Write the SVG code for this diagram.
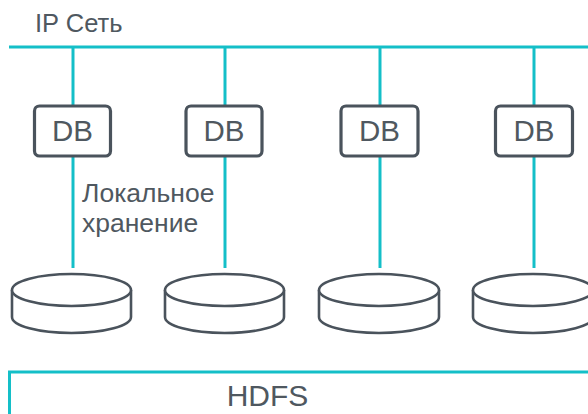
<svg xmlns="http://www.w3.org/2000/svg" width="588" height="414" viewBox="0 0 588 414">
<style>
.net{stroke:#14bfc8;stroke-width:3;fill:none}
.box{fill:#fff;stroke:#4a535c;stroke-width:3.2}
.disk{fill:#fff;stroke:#4a535c;stroke-width:2.6}
.t{font-family:"Liberation Sans",Arial,sans-serif;fill:#4f5860}
.db{font-size:29.5px;text-anchor:middle}
</style>
<rect width="588" height="414" fill="#fff"/>
<g id="connectors">
<line class="net" x1="9" y1="47" x2="588" y2="47"/>
<line class="net" x1="73" y1="47" x2="73" y2="268"/>
<line class="net" x1="225" y1="47" x2="225" y2="268"/>
<line class="net" x1="380" y1="47" x2="380" y2="268"/>
<line class="net" x1="534" y1="47" x2="534" y2="268"/>
</g>
<text class="t" x="35" y="32" font-size="25.5">IP Сеть</text>
<g id="db1"><rect class="box" x="34.5" y="106" width="76" height="50" rx="5"/><text class="t db" x="72.5" y="141">DB</text></g>
<g id="db2"><rect class="box" x="186" y="106" width="76" height="50" rx="5"/><text class="t db" x="224" y="141">DB</text></g>
<g id="db3"><rect class="box" x="341" y="106" width="77" height="50" rx="5"/><text class="t db" x="379.5" y="141">DB</text></g>
<g id="db4"><rect class="box" x="495.5" y="106" width="77" height="50" rx="5"/><text class="t db" x="534" y="141">DB</text></g>
<text class="t" x="82" y="202" font-size="26.5">Локальное</text>
<text class="t" x="82" y="232" font-size="26.5">хранение</text>
<g id="disk1"><path class="disk" d="M12,290 V317 A59.5,16 0 0 0 131,317 V290"/><ellipse class="disk" cx="71.5" cy="290" rx="59.5" ry="16"/></g>
<g id="disk2"><path class="disk" d="M165,290 V317 A59.5,16 0 0 0 284,317 V290"/><ellipse class="disk" cx="224.5" cy="290" rx="59.5" ry="16"/></g>
<g id="disk3"><path class="disk" d="M319,290 V317 A60,16 0 0 0 439,317 V290"/><ellipse class="disk" cx="379" cy="290" rx="60" ry="16"/></g>
<g id="disk4"><path class="disk" d="M473,290 V317 A60,16 0 0 0 593,317 V290"/><ellipse class="disk" cx="533" cy="290" rx="60" ry="16"/></g>
<g id="hdfs"><rect x="9.5" y="372" width="600" height="60" fill="#fff" stroke="#14bfc8" stroke-width="3"/><text class="t" x="267.5" y="406" font-size="30" text-anchor="middle">HDFS</text></g>
</svg>
